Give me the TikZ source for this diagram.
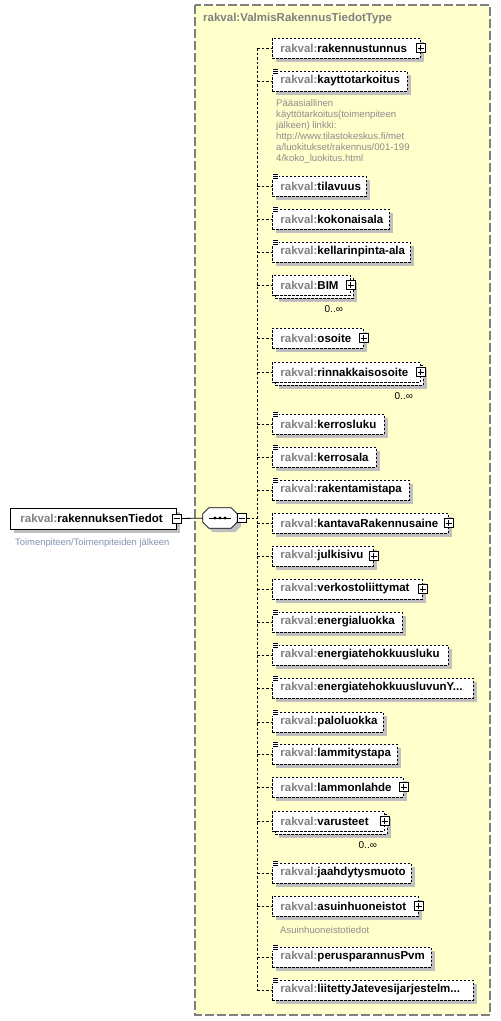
\documentclass[tikz,border=0pt]{standalone}
\usepackage{fontspec}
\setmainfont{Liberation Sans}
\usetikzlibrary{positioning,shadows}
\definecolor{typebg}{HTML}{FFFFCC}
\definecolor{nsgrey}{HTML}{808080}
\definecolor{notegrey}{HTML}{8C8C8C}
\definecolor{noteblue}{HTML}{7F93B0}
\newcommand\rk{{\color{nsgrey}rakval:}}
\newcommand\trunc{...}
\tikzset{
  boxshadow/.style={drop shadow={shadow xshift=4pt,shadow yshift=-4pt,fill=black!25,opacity=1}},
  elbase/.style={draw,dash pattern=on 2.5pt off 1.5pt,line width=.8pt,fill=white,anchor=west,
    minimum height=20pt,inner xsep=8pt,inner ysep=0pt,align=left,font=\fontsize{11.5}{13}\selectfont\bfseries},
  elbox/.style={elbase,boxshadow},
  multi/.style={elbase},
  backbox/.style={draw,dash pattern=on 2.5pt off 1.5pt,line width=.8pt,fill=white,boxshadow},
  conn/.style={dash pattern=on 2.5pt off 2pt,line width=.8pt},
  plusbox/.style={draw,fill=white,minimum size=9pt,inner sep=0pt,line width=.8pt,
    path picture={\draw ([xshift=-3pt]path picture bounding box.center) -- ([xshift=3pt]path picture bounding box.center)
      ([yshift=-3pt]path picture bounding box.center) -- ([yshift=3pt]path picture bounding box.center);}},
  minusbox/.style={draw,fill=white,minimum size=9pt,inner sep=0pt,line width=.8pt,
    path picture={\draw ([xshift=-3pt]path picture bounding box.center) -- ([xshift=3pt]path picture bounding box.center);}},
  seqbox/.style={minimum width=34pt,minimum height=20pt,inner sep=0pt},
  typebox/.style={draw=nsgrey,fill=typebg,line width=1.3pt,dash pattern=on 9pt off 3pt},
  note/.style={font=\fontsize{9.6}{11}\selectfont,text=notegrey,align=left,inner sep=0pt},
  occurs/.style={font=\fontsize{10}{12}\selectfont,inner sep=0pt}
}
\begin{document}
\begin{tikzpicture}[x=1pt,y=-1pt]
\useasboundingbox (0,0) rectangle (501,1021);
% complex type
\draw[typebox] (195,5) rectangle (490,1015);
\node[anchor=west,inner sep=0pt,text=nsgrey,font=\fontsize{11.5}{13}\selectfont\bfseries] (tt) at (203,19) {rakval:ValmisRakennusTiedotType};
% root element and sequence
\node[draw,fill=white,boxshadow,line width=.8pt,anchor=west,minimum height=21pt,text width=146pt,inner xsep=10pt,inner ysep=0pt,
  font=\fontsize{11.5}{13}\selectfont\bfseries] (root) at (10,518.5) {\rk rakennuksenTiedot};
\node[note,text=noteblue,font=\fontsize{9.4}{11}\selectfont,below right=9.5pt and 5pt of root.south west] (rootnote) {Toimenpiteen/Toimenpiteiden jälkeen};
\node[minusbox] (rm) at (root.east) {};
\node[seqbox] (seq) at (220,518) {};
\filldraw[fill=white,line width=.8pt,boxshadow] ([yshift=-6pt]seq.north west) -- ([xshift=6pt]seq.north west)
  -- ([xshift=-6pt]seq.north east) -- ([yshift=-6pt]seq.north east) -- ([yshift=6pt]seq.south east)
  -- ([xshift=-6pt]seq.south east) -- ([xshift=6pt]seq.south west) -- ([yshift=6pt]seq.south west) -- cycle;
\node[minusbox,right=0pt of seq] (sm) {};
\coordinate (sp) at (257,518);
\draw[line width=.8pt] (rm) -- (seq);
\draw[line width=.8pt] ([xshift=-11pt]seq.center) -- ([xshift=11pt]seq.center);
\foreach \d in {-5,0,5} \fill ([xshift=\d pt]seq.center) circle (1.6pt);
\draw[conn] (sm) -- (sp);
% stacked boxes for 0..oo
\foreach \y/\r in {285/350,372/420,821/384}
  \draw[backbox] (275,\y-7) rectangle (\r+3,\y+13);
% child elements
\foreach \i/\t/\y/\r/\s in {
  1/rakennustunnus/48/420/elbox,
  2/kayttotarkoitus/81/407/elbox,
  3/tilavuus/186/366/elbox,
  4/kokonaisala/219/389/elbox,
  5/kellarinpinta-ala/252/410/elbox,
  6/BIM/285/350/multi,
  7/osoite/338/363/elbox,
  8/rinnakkaisosoite/372/420/multi,
  9/kerrosluku/424/384/elbox,
  10/kerrosala/457/376/elbox,
  11/rakentamistapa/490/409/elbox,
  12/kantavaRakennusaine/523/448/elbox,
  13/julkisivu/556/373/elbox,
  14/verkostoliittymat/589/422/elbox,
  15/energialuokka/622/402/elbox,
  16/energiatehokkuusluku/655/448/elbox,
  17/energiatehokkuusluvunY\trunc/688/473/elbox,
  18/paloluokka/722/383/elbox,
  19/lammitystapa/754/397/elbox,
  20/lammonlahde/787/403/elbox,
  21/varusteet/821/384/multi,
  22/jaahdytysmuoto/873/411/elbox,
  23/asuinhuoneistot/906/418/elbox,
  24/perusparannusPvm/957/431/elbox,
  25/liitettyJatevesijarjestelm\trunc/990/473/elbox}{
  \pgfmathsetmacro\w{\r-288}
  \coordinate (j\i) at (257,\y);
  \node[\s,text width=\w pt] (e\i) at (272,\y) {\mbox{\rk\t}};
  \draw[conn] (j\i) -- (e\i);
}
\draw[conn] (j1) -- (j25);
\foreach \i in {1,6,7,8,12,13,14,20,21,23}
  \node[plusbox] (p\i) at (e\i.east) {};
\foreach \i in {2,3,4,5,9,10,11,15,16,17,18,19,22,24,25} {
  \fill[white] ([yshift=2pt]e\i.north west) rectangle ([xshift=7pt,yshift=-4pt]e\i.north west);
  \foreach \d in {1,-1,-3} \draw[line width=.6pt] ([xshift=1pt,yshift=\d pt]e\i.north west) -- ++(5,0);
}
\foreach \i in {6,8,21}
  \node[occurs] (o\i) at ([xshift=-17pt,yshift=-13.5pt]e\i.south east) {0..∞};
% annotations
\node[note,below right=8pt and 4pt of e2.south west] (n2) {Pääasiallinen\\käyttötarkoitus(toimenpiteen\\jälkeen) linkki:\\http://www.tilastokeskus.fi/met\\a/luokitukset/rakennus/001-199\\4/koko\_luokitus.html};
\node[note,below right=9.5pt and 8pt of e23.south west] (n23) {Asuinhuoneistotiedot};
\end{tikzpicture}
\end{document}
